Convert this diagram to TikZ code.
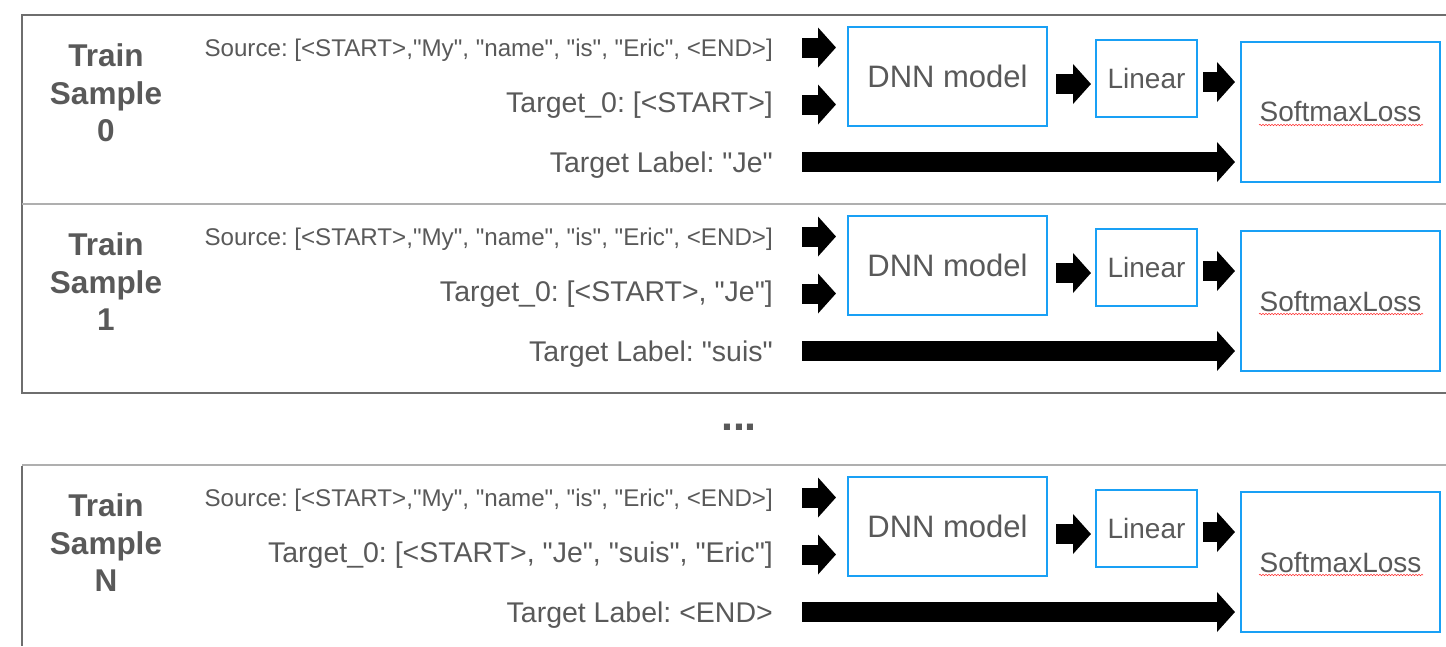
\documentclass[tikz,border=0pt]{standalone}
\usepackage{fontspec}
\setmainfont{Liberation Sans}[Ligatures=TeXOff]
\frenchspacing
\usetikzlibrary{arrows.meta,decorations.pathmorphing}
\definecolor{txtgray}{RGB}{89,89,89}
\definecolor{boxblue}{RGB}{25,160,245}
\definecolor{rulegray}{RGB}{110,110,110}
\definecolor{sepgray}{RGB}{175,175,175}
\tikzset{
  srctxt/.style={inner sep=0, text=txtgray, font=\fontsize{24.15}{28}\selectfont},
  tgttxt/.style={inner sep=0, text=txtgray, font=\fontsize{28.5}{32}\selectfont},
  trainlbl/.style={align=center, text=txtgray, font=\bfseries\fontsize{31.5}{37.5}\selectfont},
  blk/.style={draw=boxblue, line width=2pt, text=txtgray},
  fat/.style={line width=20pt, -{Triangle[length=18pt,width=39pt]}},
  squiggle/.style={red!80, line width=0.6pt, decorate,
    decoration={snake, segment length=3pt, amplitude=0.7pt}}
}
\begin{document}
\begin{tikzpicture}[x=1pt,y=-1pt]
\useasboundingbox (0,0) rectangle (1446,646);

% panel frames
\draw[rulegray, line width=1.5pt] (1446,15) -- (22,15) -- (22,393) -- (1446,393);
\draw[sepgray, line width=1.5pt] (22,204) -- (1446,204);
\draw[sepgray, line width=1.5pt] (22,465) -- (1446,465);
\draw[rulegray, line width=1.5pt] (22,466) -- (22,646);

\node[text=txtgray, font=\bfseries\fontsize{43}{43}\selectfont, anchor=base] (dots) at (739,430) {...};

\foreach \dy/\n/\tgt/\lbl in {0/0/{Target\_0: [<START>]}/{Target Label: "Je"},
  189/1/{Target\_0: [<START>, "Je"]}/{Target Label: "suis"},
  450/N/{Target\_0: [<START>, "Je", "suis", "Eric"]}/{Target Label: <END>}}
{
  \node[trainlbl] (train\n) at (106,93+\dy) {Train\\Sample\\\n};
  \node[srctxt, anchor=base east] (src\n) at (773,56.5+\dy) {Source: [<START>,"My", "name", "is", "Eric", <END>]};
  \node[tgttxt, anchor=base east] (tgt\n) at (773,112+\dy) {\tgt};
  \node[tgttxt, anchor=base east] (lbl\n) at (773,172+\dy) {\lbl};

  \node[blk, font=\fontsize{31}{34}\selectfont, minimum width=199, minimum height=99] (dnn\n) at (947.5,76.5+\dy) {DNN model};
  \node[blk, font=\fontsize{28}{32}\selectfont, minimum width=101, minimum height=77] (lin\n) at (1146.5,78.5+\dy) {Linear};
  \node[blk, font=\fontsize{28}{32}\selectfont, minimum width=199, minimum height=140] (sm\n) at (1340.5,112+\dy) {SoftmaxLoss};
  \draw[squiggle] ([shift={(-81.5pt,-13pt)}]sm\n.center) -- ([shift={(82.5pt,-13pt)}]sm\n.center);

  \coordinate (s\n) at ([yshift=9pt]src\n.base east);
  \coordinate (t\n) at ([yshift=7.5pt]tgt\n.base east);
  \coordinate (l\n) at ([yshift=10pt]lbl\n.base east);
  \draw[fat, shorten <=29pt, shorten >=11pt] (s\n) -- (s\n -| dnn\n.west);
  \draw[fat, shorten <=29pt, shorten >=11pt] (t\n) -- (t\n -| dnn\n.west);
  \draw[fat, shorten <=29pt, shorten >=5pt] (l\n) -- (l\n -| sm\n.west);
  \draw[fat, shorten <=8pt, shorten >=4pt] ([yshift=-7.5pt]dnn\n.east) -- ([yshift=-7.5pt]dnn\n.east -| lin\n.west);
  \draw[fat, shorten <=5pt, shorten >=5pt] ([yshift=-3.5pt]lin\n.east) -- ([yshift=-3.5pt]lin\n.east -| sm\n.west);
}
\end{tikzpicture}
\end{document}
